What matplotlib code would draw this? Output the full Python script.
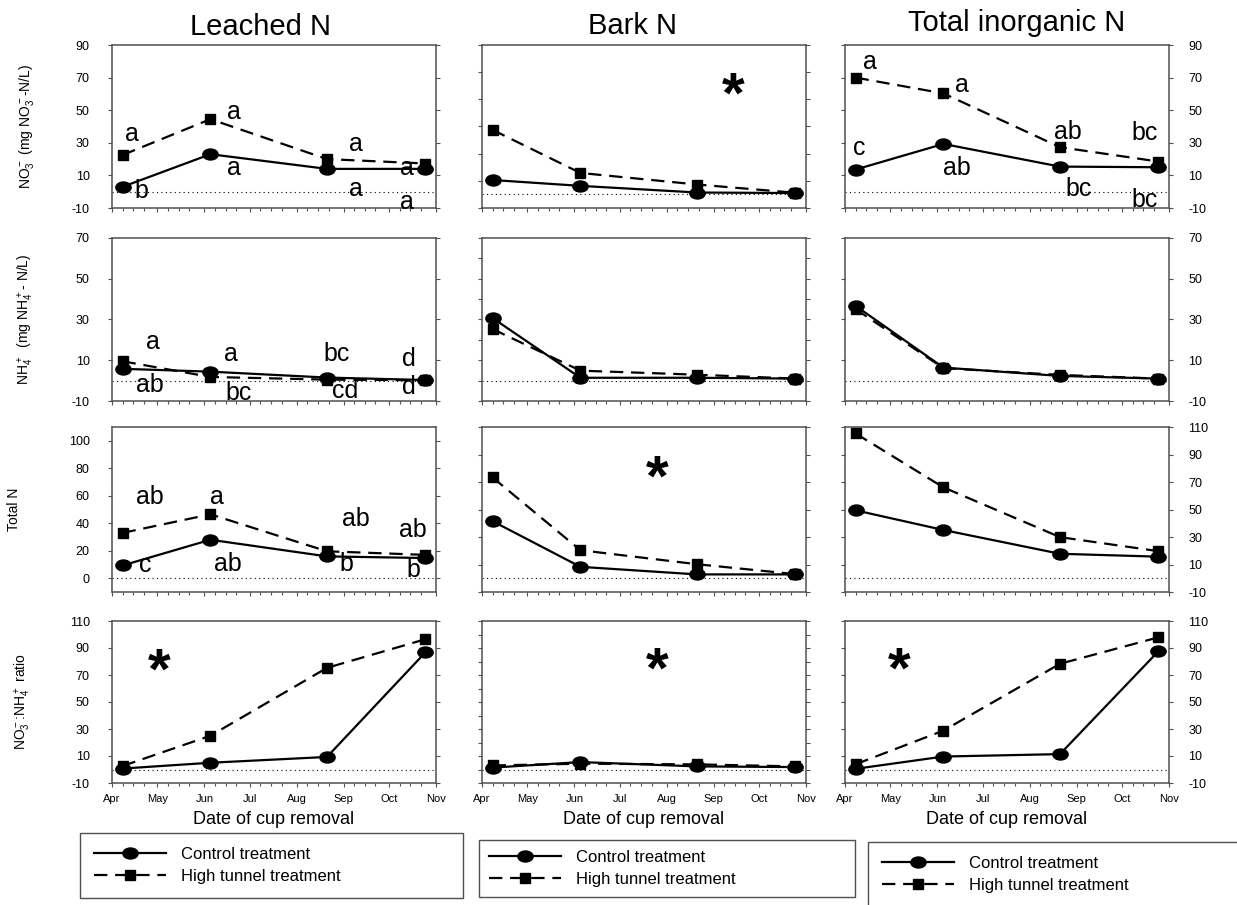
import numpy as np
import pandas as pd
import matplotlib
matplotlib.use('Agg')
import matplotlib.pyplot as plt
import matplotlib.dates as mdates
from matplotlib.path import Path

plt.rcParams['font.family'] = ['Liberation Sans', 'DejaVu Sans']
plt.rcParams['mathtext.default'] = 'regular'
plt.rcParams['axes.unicode_minus'] = False

# cup removal dates
cup_dates = pd.to_datetime(['2009-04-08', '2009-06-05', '2009-08-21', '2009-10-25'])

columns = ['Leached N', 'Bark N', 'Total inorganic N']
row_labels = [r'NO$_3^-$ (mg NO$_3^-$-N/L)',
              r'NH$_4^+$  (mg NH$_4^+$- N/L)',
              'Total N',
              r'NO$_3^-$:NH$_4^+$ ratio']

# NO3-
leached_no3_ctrl = [3.0, 23.0, 14.0, 14.0]
leached_no3_ht = [22.5, 44.5, 20.0, 17.3]
bark_no3_ctrl = [10.6, 6.3, 1.4, 1.0]
bark_no3_ht = [47.5, 15.8, 7.3, 1.2]
tin_no3_ctrl = [13.6, 29.3, 15.4, 15.0]
tin_no3_ht = [70.0, 60.3, 27.3, 18.5]

# NH4+
leached_nh4_ctrl = [5.8, 4.4, 1.5, 0.3]
leached_nh4_ht = [9.5, 1.8, 0.5, 0.2]
bark_nh4_ctrl = [30.7, 1.4, 1.4, 1.0]
bark_nh4_ht = [25.3, 4.9, 2.9, 1.0]
tin_nh4_ctrl = [36.7, 6.4, 2.3, 1.0]
tin_nh4_ht = [35.1, 6.1, 2.8, 1.0]

# total N
leached_tn_ctrl = [9.3, 28.0, 15.9, 14.7]
leached_tn_ht = [33.0, 46.5, 19.6, 17.0]
bark_tn_ctrl = [41.5, 8.3, 2.8, 2.8]
bark_tn_ht = [73.3, 20.4, 10.2, 3.0]
tin_tn_ctrl = [49.4, 35.1, 17.8, 15.7]
tin_tn_ht = [105.3, 66.1, 29.9, 19.7]

# NO3-:NH4+ ratio
leached_ratio_ctrl = [0.7, 5.0, 9.3, 86.8]
leached_ratio_ht = [2.6, 25.0, 75.3, 96.5]
bark_ratio_ctrl = [1.4, 5.5, 2.3, 1.8]
bark_ratio_ht = [3.0, 4.3, 3.8, 2.3]
tin_ratio_ctrl = [0.5, 9.6, 11.4, 87.6]
tin_ratio_ht = [3.9, 28.8, 78.3, 97.9]

ctrl = [[leached_no3_ctrl, bark_no3_ctrl, tin_no3_ctrl],
        [leached_nh4_ctrl, bark_nh4_ctrl, tin_nh4_ctrl],
        [leached_tn_ctrl, bark_tn_ctrl, tin_tn_ctrl],
        [leached_ratio_ctrl, bark_ratio_ctrl, tin_ratio_ctrl]]
ht = [[leached_no3_ht, bark_no3_ht, tin_no3_ht],
      [leached_nh4_ht, bark_nh4_ht, tin_nh4_ht],
      [leached_tn_ht, bark_tn_ht, tin_tn_ht],
      [leached_ratio_ht, bark_ratio_ht, tin_ratio_ht]]

# mean separation letters, (row, col) -> (control, high tunnel)
letters = {
    (0, 0): (['b', 'a', 'a', 'a'], ['a', 'a', 'a', 'a']),
    (1, 0): (['ab', 'a', 'bc', 'd'], ['a', 'bc', 'cd', 'd']),
    (2, 0): (['c', 'ab', 'b', 'b'], ['ab', 'a', 'ab', 'ab']),
    (0, 2): (['c', 'ab', 'bc', 'bc'], ['a', 'a', 'ab', 'bc']),
}
# letter offsets from the points, in pixels
letter_offsets = {
    (0, 0): ([(19, -4), (24, -14), (29, -20), (-18, -33)],
             [(9, 21), (24, 7), (29, 15), (-18, -4)]),
    (1, 0): ([(27, -16), (21, 18), (10, 24), (-17, 21)],
             [(30, 19), (28, -16), (18, -11), (-17, -7)]),
    (2, 0): ([(23, 0), (17, -24), (19, -8), (-12, -12)],
             [(27, 36), (7, 17), (29, 32), (-13, 25)]),
    (0, 2): ([(4, 22), (13, -24), (19, -22), (-14, -33)],
             [(14, 16), (19, 8), (8, 15), (-14, 29)]),
}

# significant treatment effect markers (row, col, x, y in axes fraction)
stars = [(0, 1, 0.775, 0.675), (2, 1, 0.54, 0.675), (3, 0, 0.145, 0.675),
         (3, 1, 0.54, 0.68), (3, 2, 0.167, 0.68)]

ylims = [[(-10, 90), (-10, 110), (-10, 90)],
         [(-10, 70), (-10, 70), (-10, 70)],
         [(-10, 110), (-10, 110), (-10, 110)],
         [(-10, 110), (-10, 110), (-10, 110)]]
yticks = [[np.arange(-10, 91, 20), np.arange(-10, 111, 20), np.arange(-10, 91, 20)],
          [np.arange(-10, 71, 20), np.arange(-10, 71, 10), np.arange(-10, 71, 20)],
          [np.arange(0, 101, 20), np.arange(-10, 111, 20), np.arange(-10, 111, 20)],
          [np.arange(-10, 111, 20), np.arange(-10, 111, 10), np.arange(-10, 111, 20)]]

W, H = 1237, 905
col_left = [112, 482, 845]
col_w = 324
row_top = [45, 238, 427, 621]
row_h = [163, 163, 165, 162]
ylab_x = [-0.235, -0.235, -0.28, -0.245]

# oval marker for the control series
circ = Path.unit_circle()
oval = Path(circ.vertices * [1.0, 0.72], circ.codes)

spine_col = '#505050'
fig = plt.figure(figsize=(W / 100, H / 100), dpi=100)

axes = {}
for r in range(4):
    for c in range(3):
        ax = fig.add_axes([col_left[c] / W, 1 - (row_top[r] + row_h[r]) / H,
                           col_w / W, row_h[r] / H])
        axes[r, c] = ax
        ax.axhline(0, color='black', lw=0.8, ls=(0, (1, 3)))
        l1, = ax.plot(cup_dates, ctrl[r][c], color='black', lw=1.6,
                      marker=oval, ms=11, label='Control treatment', zorder=3)
        l2, = ax.plot(cup_dates, ht[r][c], color='black', lw=1.6,
                      dashes=(6, 3.5), marker='s', ms=7,
                      label='High tunnel treatment', zorder=3)
        ax.set_xlim(pd.Timestamp('2009-04-01'), pd.Timestamp('2009-11-01'))
        ax.set_ylim(*ylims[r][c])
        ax.set_yticks(yticks[r][c])
        ax.xaxis.set_major_locator(mdates.MonthLocator())
        ax.xaxis.set_minor_locator(mdates.DayLocator(bymonthday=[8, 15, 22]))
        ax.xaxis.set_major_formatter(mdates.DateFormatter('%b'))
        ax.tick_params(axis='x', which='major', direction='out', length=3,
                       width=0.8, labelsize=8, pad=5, labelbottom=(r == 3),
                       color=spine_col)
        ax.tick_params(axis='x', which='minor', direction='out', length=2,
                       width=0.8, color=spine_col)
        ax.tick_params(axis='y', direction='out', length=3, width=0.8,
                       left=True, right=True, labelleft=(c == 0),
                       labelright=(c == 2), labelsize=9,
                       pad=13 if c == 0 else 11, color=spine_col)
        for s in ax.spines.values():
            s.set_color(spine_col)
            s.set_linewidth(1.1)
        if c == 0:
            ax.set_ylabel(row_labels[r], fontsize=10)
            ax.yaxis.set_label_coords(ylab_x[r], 0.5)
        if r == 3:
            ax.set_xlabel('Date of cup removal', fontsize=13, labelpad=5)

        if (r, c) in letters:
            for vals, labs, offs in zip((ctrl[r][c], ht[r][c]),
                                        letters[r, c], letter_offsets[r, c]):
                for d, v, lab, off in zip(cup_dates, vals, labs, offs):
                    ax.annotate(lab, (d, v), xytext=off,
                                textcoords='offset pixels', fontsize=18,
                                ha='center', va='center', zorder=4)

        if r == 3:
            # one legend under each column
            lx = [80, 479, 868][c]
            ltop = [833, 840, 842][c]
            lw = [383, 376, 400][c]
            leg = fig.legend(handles=[l1, l2], loc='upper left',
                             bbox_to_anchor=(lx / W, 1 - ltop / H - 0.01,
                                             lw / W, 0.01),
                             mode='expand', borderaxespad=0, fontsize=12,
                             handlelength=4.3, handletextpad=0.9,
                             borderpad=0.85 if c != 1 else 0.6,
                             labelspacing=0.4, numpoints=1, fancybox=False,
                             framealpha=1, edgecolor=spine_col)
            leg.get_frame().set_linewidth(1.0)

for r, c, fx, fy in stars:
    axes[r, c].text(fx, fy, '*', transform=axes[r, c].transAxes, fontsize=42,
                    fontweight='bold', ha='center', va='center')

fig.text(260 / W, 1 - 35 / H, columns[0], fontsize=21, ha='center', va='baseline')
fig.text(632 / W, 1 - 34 / H, columns[1], fontsize=21, ha='center', va='baseline')
fig.text(1017 / W, 1 - 31 / H, columns[2], fontsize=21, ha='center', va='baseline')

fig.savefig('out.png', dpi=100)
